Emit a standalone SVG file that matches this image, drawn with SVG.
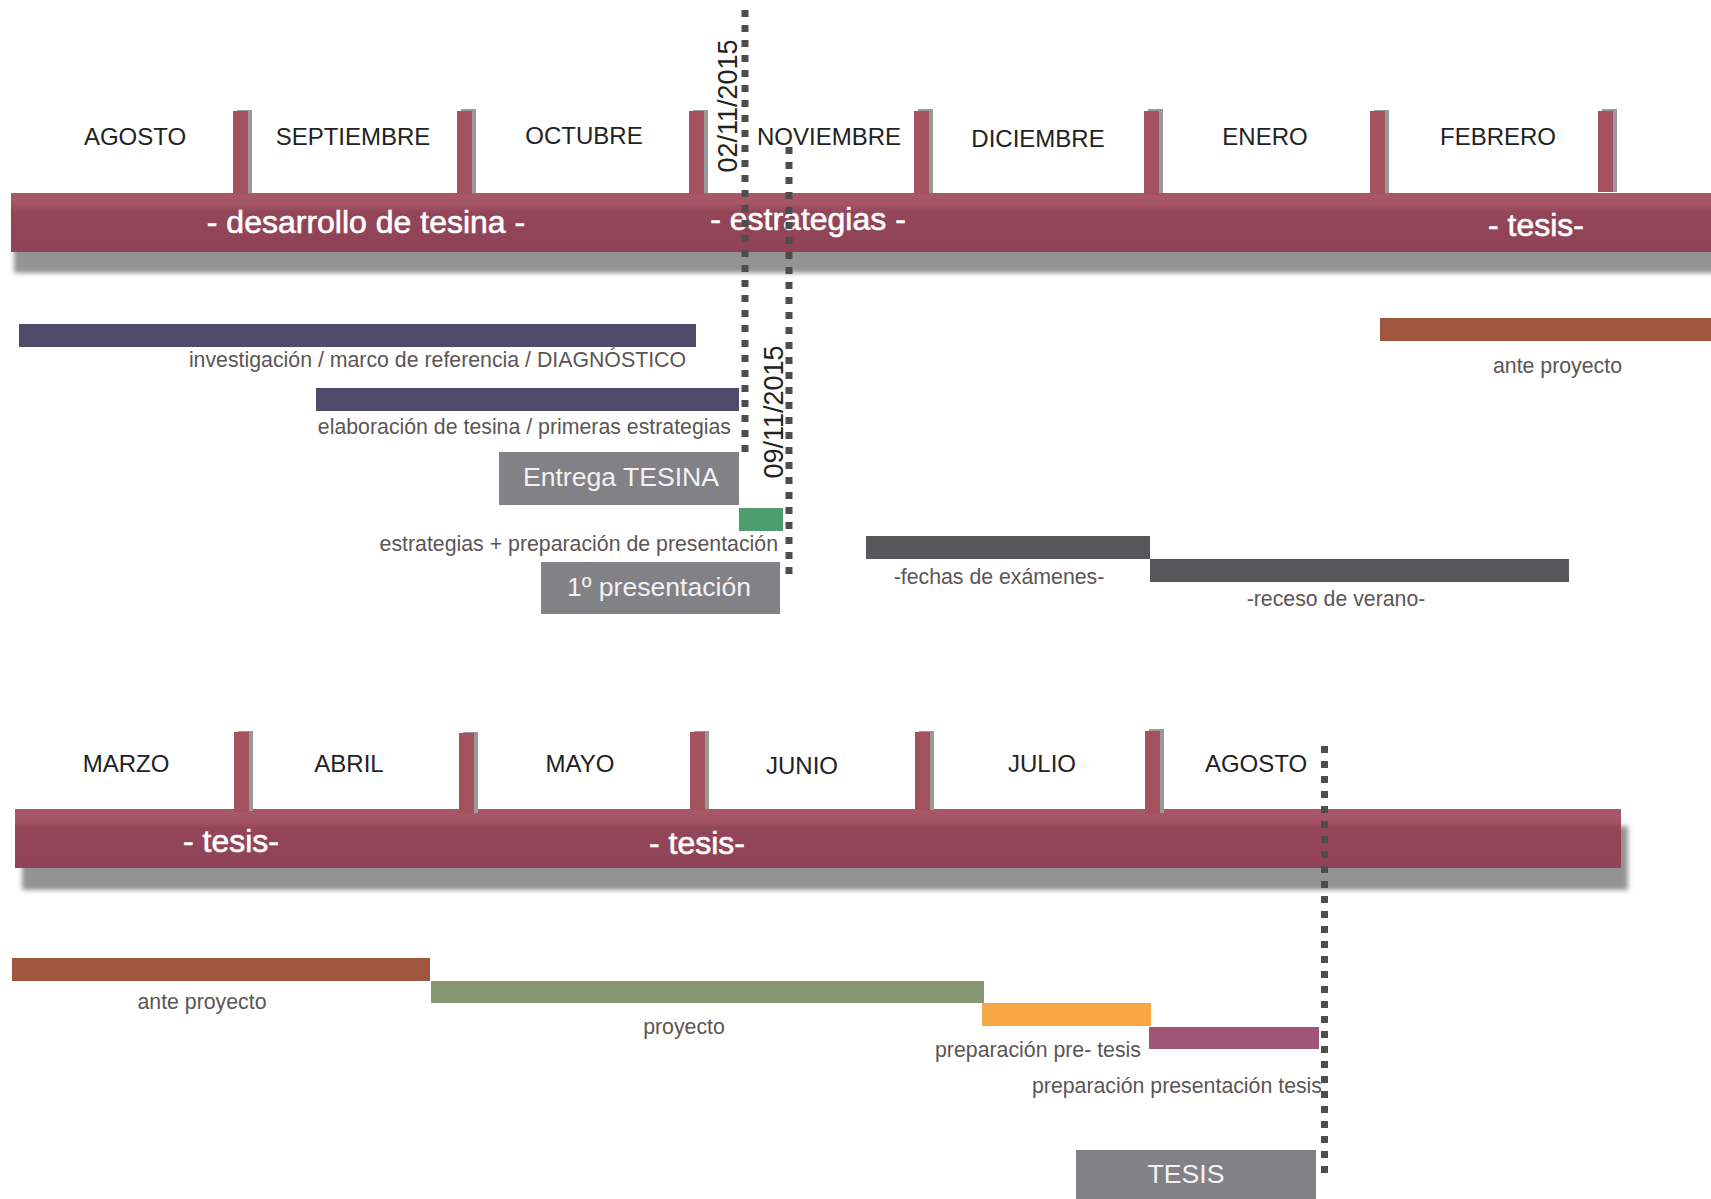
<svg xmlns="http://www.w3.org/2000/svg" width="1711" height="1199" viewBox="0 0 1711 1199">
  <defs>
    <linearGradient id="bandGrad" x1="0" y1="0" x2="0" y2="1">
      <stop offset="0" stop-color="#a85869"/>
      <stop offset="0.17" stop-color="#a65567"/>
      <stop offset="0.34" stop-color="#934659"/>
      <stop offset="1" stop-color="#904356"/>
    </linearGradient>
    <filter id="blur" x="-5%" y="-50%" width="110%" height="200%">
      <feGaussianBlur stdDeviation="2.5"/>
    </filter>
  </defs>
  <style>
    text { font-family: "Liberation Sans", Arial, sans-serif; }
    .month { font-size: 24px; fill: #222222; text-anchor: middle; }
    .bandt { font-size: 32px; fill: #ffffff; stroke: #ffffff; stroke-width: 0.6px; text-anchor: middle; }
    .lbl { font-size: 21.3px; fill: #5d5555; }
    .mid { text-anchor: middle; }
    .end { text-anchor: end; }
    .box { fill: #818186; }
    .boxt { font-size: 26.6px; fill: #f2f2f2; text-anchor: middle; }
    .date { font-size: 27px; fill: #222222; text-anchor: middle; }
    .tickr { fill: #a5525f; }
    .tickg { fill: #9a9a9a; }
    .shadow { fill: #939393; filter: url(#blur); }
    .band { fill: url(#bandGrad); }
    .dots { stroke: #4d4d4d; stroke-width: 7; stroke-dasharray: 7 8; fill: none; }
  </style>
  <rect width="1711" height="1199" fill="#ffffff"/>

  <!-- Top timeline -->
  <g id="top-band">
    <rect class="shadow" x="14" y="206" width="1710" height="67"/>
    <rect class="band" x="11" y="193" width="1710" height="59"/>
    <text class="bandt" x="366" y="233">- desarrollo de tesina -</text>
    <text class="bandt" x="808" y="230">- estrategias -</text>
    <text class="bandt" x="1536" y="236">- tesis-</text>
  </g>
  <g id="top-ticks">
    <rect class="tickg" x="237" y="110" width="15" height="83"/>
    <rect class="tickr" x="233" y="111" width="15" height="83"/>
    <rect class="tickg" x="461" y="109" width="15" height="84"/>
    <rect class="tickr" x="457" y="111" width="15" height="83"/>
    <rect class="tickg" x="693" y="110" width="15" height="83"/>
    <rect class="tickr" x="689" y="111" width="15" height="84"/>
    <rect class="tickg" x="918" y="109" width="15" height="84"/>
    <rect class="tickr" x="914" y="111" width="15" height="83"/>
    <rect class="tickg" x="1148" y="109" width="15" height="84"/>
    <rect class="tickr" x="1144" y="111" width="15" height="84"/>
    <rect class="tickg" x="1374" y="110" width="15" height="83"/>
    <rect class="tickr" x="1370" y="111" width="15" height="83"/>
    <rect class="tickg" x="1602" y="109" width="15" height="83"/>
    <rect class="tickr" x="1598" y="111" width="15" height="81"/>
  </g>
  <g id="top-months">
    <text class="month" x="135" y="145">AGOSTO</text>
    <text class="month" x="353" y="145">SEPTIEMBRE</text>
    <text class="month" x="584" y="144">OCTUBRE</text>
    <text class="month" x="829" y="145">NOVIEMBRE</text>
    <text class="month" x="1038" y="147">DICIEMBRE</text>
    <text class="month" x="1265" y="145">ENERO</text>
    <text class="month" x="1498" y="145">FEBRERO</text>
  </g>

  <g id="investigacion">
    <rect x="19" y="324" width="677" height="23" fill="#4e4b6b"/>
    <text class="lbl end" x="686" y="367">investigación / marco de referencia / DIAGNÓSTICO</text>
  </g>
  <g id="elaboracion">
    <rect x="316" y="388" width="423" height="23" fill="#4e4b6b"/>
    <text class="lbl end" x="731" y="434">elaboración de tesina / primeras estrategias</text>
  </g>
  <g id="entrega-tesina">
    <rect class="box" x="499" y="452" width="240" height="53"/>
    <text class="boxt" x="621" y="486">Entrega TESINA</text>
  </g>
  <g id="estrategias-presentacion">
    <rect x="739" y="508" width="44" height="23" fill="#4f9d6f"/>
    <text class="lbl end" x="778" y="551">estrategias + preparación de presentación</text>
  </g>
  <g id="primera-presentacion">
    <rect class="box" x="541" y="562" width="239" height="52"/>
    <text class="boxt" x="659" y="596">1º presentación</text>
  </g>
  <g id="fechas-examenes">
    <rect x="866" y="536" width="284" height="23" fill="#58585a"/>
    <text class="lbl mid" x="999" y="584">-fechas de exámenes-</text>
  </g>
  <g id="receso-verano">
    <rect x="1150" y="559" width="419" height="23" fill="#58585a"/>
    <text class="lbl mid" x="1336" y="606">-receso de verano-</text>
  </g>
  <g id="ante-proyecto-top">
    <rect x="1380" y="318" width="331" height="23" fill="#a0553f"/>
    <text class="lbl end" x="1622" y="373">ante proyecto</text>
  </g>

  <!-- Bottom timeline -->
  <g id="bottom-band">
    <rect class="shadow" x="22" y="826" width="1606" height="64"/>
    <rect class="band" x="15" y="809" width="1606" height="59"/>
    <text class="bandt" x="231" y="852">- tesis-</text>
    <text class="bandt" x="697" y="854">- tesis-</text>
  </g>
  <g id="bottom-ticks">
    <rect class="tickg" x="238" y="731" width="15" height="80"/>
    <rect class="tickr" x="234" y="732" width="15" height="80"/>
    <rect class="tickg" x="463" y="732" width="15" height="81"/>
    <rect class="tickr" x="459" y="733" width="15" height="80"/>
    <rect class="tickg" x="694" y="731" width="15" height="78"/>
    <rect class="tickr" x="690" y="732" width="15" height="78"/>
    <rect class="tickg" x="919" y="731" width="15" height="79"/>
    <rect class="tickr" x="915" y="732" width="15" height="78"/>
    <rect class="tickg" x="1149" y="729" width="15" height="84"/>
    <rect class="tickr" x="1145" y="731" width="15" height="83"/>
  </g>
  <g id="bottom-months">
    <text class="month" x="126" y="772">MARZO</text>
    <text class="month" x="349" y="772">ABRIL</text>
    <text class="month" x="580" y="772">MAYO</text>
    <text class="month" x="802" y="774">JUNIO</text>
    <text class="month" x="1042" y="772">JULIO</text>
    <text class="month" x="1256" y="772">AGOSTO</text>
  </g>

  <g id="ante-proyecto">
    <rect x="12" y="958" width="418" height="23" fill="#a0553f"/>
    <text class="lbl mid" x="202" y="1009">ante proyecto</text>
  </g>
  <g id="proyecto">
    <rect x="431" y="981" width="553" height="22" fill="#879874"/>
    <text class="lbl mid" x="684" y="1034">proyecto</text>
  </g>
  <g id="pre-tesis">
    <rect x="982" y="1003" width="169" height="23" fill="#f8a746"/>
    <text class="lbl end" x="1141" y="1057">preparación pre- tesis</text>
  </g>
  <g id="presentacion-tesis">
    <rect x="1149" y="1027" width="170" height="22" fill="#a05577"/>
    <text class="lbl end" x="1322" y="1093">preparación presentación tesis</text>
  </g>
  <g id="tesis">
    <rect class="box" x="1076" y="1150" width="240" height="49"/>
    <text class="boxt" x="1186" y="1183">TESIS</text>
  </g>

  <!-- Connectors: dotted date lines -->
  <g id="connectors">
    <line class="dots" x1="745" y1="10" x2="745" y2="452"/>
    <line class="dots" x1="789" y1="147" x2="789" y2="575"/>
    <line class="dots" x1="1324.5" y1="746" x2="1324.5" y2="1174"/>
  </g>
  <g id="dates">
    <text class="date" transform="translate(737,106) rotate(-90)">02/11/2015</text>
    <text class="date" transform="translate(783,412) rotate(-90)">09/11/2015</text>
  </g>
</svg>
